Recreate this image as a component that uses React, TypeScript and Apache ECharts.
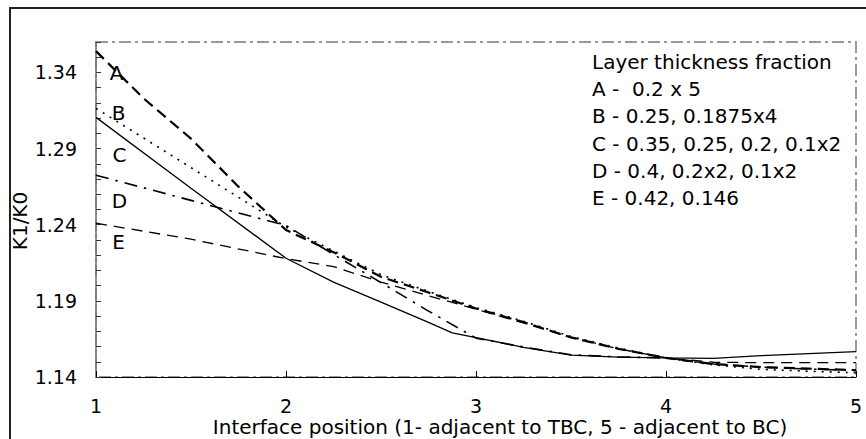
import React, { useEffect, useRef } from "react";
import * as echarts from "echarts";

// ---- data ----
const xTickLabels = [1, 2, 3, 4, 5];
const yMin = 1.14;
const yMax = 1.36;

const seriesNames = ["A", "B", "C", "D", "E"];

const xA = [1, 1.25, 1.5, 1.75, 2, 2.25, 2.5, 2.75, 3, 3.25, 3.5, 3.75, 4, 4.25, 4.5, 4.75, 5];
const yA = [1.354, 1.323, 1.2965, 1.265, 1.2365, 1.222, 1.2058, 1.1955, 1.185, 1.176, 1.166, 1.1585, 1.1525, 1.1485, 1.1465, 1.1455, 1.1445];

const xB = [1, 1.25, 1.5, 1.75, 2, 2.25, 2.5, 2.75, 3, 3.25, 3.5, 3.75, 4, 4.25, 4.5, 4.75, 5];
const yB = [1.3164, 1.297, 1.2775, 1.258, 1.2385, 1.2228, 1.2072, 1.1962, 1.1856, 1.1766, 1.1666, 1.159, 1.1525, 1.148, 1.145, 1.1438, 1.1428];

const xC = [1, 1.5, 2, 2.25, 2.5, 2.75, 2.875, 3, 3.25, 3.5, 3.75, 4, 4.25, 4.5, 4.75, 5];
const yC = [1.3105, 1.264, 1.218, 1.2023, 1.1892, 1.1759, 1.169, 1.1659, 1.1595, 1.1544, 1.153, 1.1525, 1.1522, 1.154, 1.1553, 1.1566];

const xD = [1, 1.5, 2, 2.25, 2.5, 2.75, 3, 3.25, 3.5, 3.75, 4, 4.25, 4.5, 4.75, 5];
const yD = [1.2725, 1.256, 1.2395, 1.2205, 1.202, 1.1833, 1.1655, 1.1597, 1.1546, 1.1532, 1.1525, 1.1485, 1.1465, 1.1452, 1.1443];

const xE = [1, 1.5, 2, 2.25, 2.5, 2.75, 3, 3.25, 3.5, 3.75, 4, 4.25, 4.5, 4.75, 5];
const yE = [1.241, 1.2305, 1.2177, 1.2125, 1.2023, 1.1934, 1.1845, 1.1755, 1.166, 1.1585, 1.1525, 1.1497, 1.1494, 1.1494, 1.1494];

const legendLines = [
  "Layer thickness fraction",
  "A -  0.2 x 5",
  "B - 0.25, 0.1875x4",
  "C - 0.35, 0.25, 0.2, 0.1x2",
  "D - 0.4, 0.2x2, 0.1x2",
  "E - 0.42, 0.146",
];

const xAxisTitle = "Interface position (1- adjacent to TBC, 5 - adjacent to BC)";
const yAxisTitle = "K1/K0";

const FONT = '"DejaVu Sans", "Liberation Sans", Arial, sans-serif';

function pairs(xs: number[], ys: number[]) {
  return xs.map((x, i) => [x, ys[i]]);
}

export default function App() {
  const ref = useRef<HTMLDivElement>(null);

  useEffect(() => {
    if (!ref.current) return;
    const chart = echarts.init(ref.current, undefined, { renderer: "svg" });

    const styles: any[] = [
      { width: 2.2, type: [11, 6] },
      { width: 1.6, type: [2, 6] },
      { width: 1.3, type: "solid" },
      { width: 1.6, type: [13, 7, 2.5, 7] },
      { width: 1.3, type: [11, 7] },
    ];
    const dataSets = [pairs(xA, yA), pairs(xB, yB), pairs(xC, yC), pairs(xD, yD), pairs(xE, yE)];

    const labelPos = [
      [116.5, 73],
      [118.5, 113],
      [119.5, 155],
      [119.5, 201],
      [118.5, 241.5],
    ];

    const graphics: any[] = [
      {
        type: "rect",
        shape: { x: 10, y: 8, width: 880, height: 460 },
        style: { fill: "none", stroke: "#222", lineWidth: 2 },
        silent: true,
        z: 0,
      },
      ...legendLines.map((t, i) => ({
        type: "text",
        x: 592,
        y: 62 + 27.2 * i,
        style: {
          text: t,
          fill: "#000",
          fontSize: 20,
          fontFamily: FONT,
          align: "left",
          verticalAlign: "middle",
          lineHeight: 20,
        },
        z: 10,
      })),
      ...seriesNames.map((n, i) => ({
        type: "text",
        x: labelPos[i][0],
        y: labelPos[i][1],
        style: {
          text: n,
          fill: "#000",
          fontSize: 20,
          fontFamily: FONT,
          align: "center",
          verticalAlign: "middle",
          lineHeight: 18,
        },
        z: 10,
      })),
      {
        type: "text",
        x: 500,
        y: 427,
        style: {
          text: xAxisTitle,
          fill: "#000",
          fontSize: 20,
          fontFamily: FONT,
          align: "center",
          verticalAlign: "middle",
          lineHeight: 16,
        },
        z: 10,
      },
      {
        type: "text",
        x: 20,
        y: 221,
        rotation: Math.PI / 2,
        style: {
          text: yAxisTitle,
          fill: "#000",
          fontSize: 20,
          fontFamily: FONT,
          align: "center",
          verticalAlign: "middle",
          lineHeight: 18,
        },
        z: 10,
      },
    ];

    chart.setOption({
      animation: false,
      backgroundColor: "#fff",
      grid: {
        left: 96,
        right: 10,
        top: 42,
        bottom: 62,
        show: true,
        borderColor: "#999",
        borderWidth: 2,
        borderType: [12, 4, 3, 4],
        backgroundColor: "transparent",
        containLabel: false,
        outerBoundsMode: "none",
      },
      xAxis: {
        type: "value",
        min: 1,
        max: 5,
        interval: 1,
        axisLine: { show: true, onZero: false, lineStyle: { color: "#000", width: 1 } },
        axisTick: { show: true, inside: true, length: 6, lineStyle: { color: "#000", width: 1 } },
        axisLabel: {
          margin: 22,
          fontSize: 19,
          lineHeight: 14,
          fontFamily: FONT,
          color: "#000",
          formatter: (v: number) => (xTickLabels.includes(v) ? String(v) : ""),
        },
        splitLine: { show: false },
      },
      yAxis: {
        type: "value",
        min: yMin,
        max: yMax,
        interval: 0.01,
        axisLine: { show: true, onZero: false, lineStyle: { color: "#777", width: 1.6 } },
        axisTick: { show: true, inside: true, length: 5, lineStyle: { color: "#333", width: 1 } },
        axisLabel: {
          margin: 19,
          fontSize: 19,
          fontFamily: FONT,
          color: "#000",
          formatter: (v: number) => {
            const k = Math.round(v * 100);
            return k % 5 === 4 && k < 136 ? (k / 100).toFixed(2) : "";
          },
        },
        splitLine: { show: false },
      },
      series: seriesNames.map((n, i) => ({
        name: n,
        type: "line",
        data: dataSets[i],
        showSymbol: false,
        symbol: "none",
        smooth: false,
        lineStyle: { color: "#000", width: styles[i].width, type: styles[i].type },
        z: 3,
      })),
      graphic: graphics,
    });

    return () => chart.dispose();
  }, []);

  return (
    <div
      ref={ref}
      style={{ position: "absolute", left: 0, top: 0, width: 866, height: 439 }}
    />
  );
}
